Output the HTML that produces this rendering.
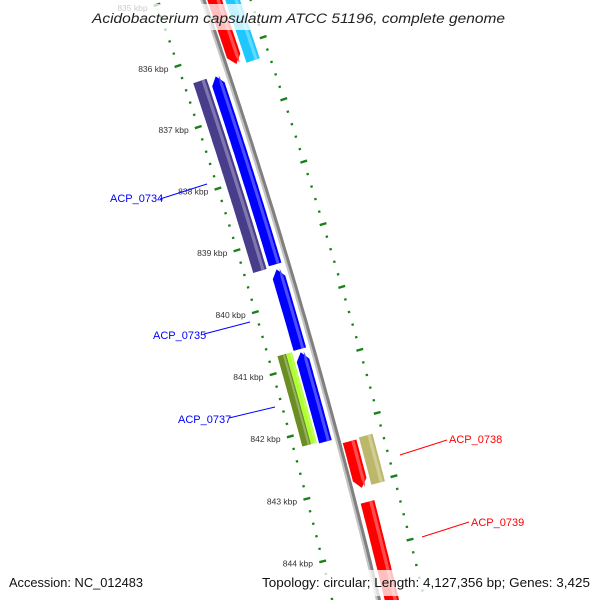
<!DOCTYPE html>
<html><head><meta charset="utf-8"><style>
html,body{margin:0;padding:0;background:#fff;width:600px;height:600px;overflow:hidden;}
svg{display:block;font-family:"Liberation Sans",sans-serif;overflow:hidden;}
</style></head><body>
<svg id="map" width="600" height="600" viewBox="0 0 600 600" xmlns="http://www.w3.org/2000/svg">
<rect width="600" height="600" fill="#fff"/>
<g id="ticks"></g>
<g id="backbone"></g>
<g id="features"></g>
<g id="labels">
  <line x1="160" y1="199" x2="207" y2="184" stroke="#0000ff" stroke-width="1"/>
  <text x="110" y="202" font-size="11" fill="#0000ff">ACP_0734</text>
  <line x1="204" y1="334" x2="250" y2="322" stroke="#0000ff" stroke-width="1"/>
  <text x="153" y="339" font-size="11" fill="#0000ff">ACP_0735</text>
  <line x1="229" y1="418" x2="275" y2="407" stroke="#0000ff" stroke-width="1"/>
  <text x="178" y="423" font-size="11" fill="#0000ff">ACP_0737</text>
  <line x1="400" y1="455" x2="447" y2="440" stroke="#ff0000" stroke-width="1"/>
  <text x="449" y="443" font-size="11" fill="#ff0000">ACP_0738</text>
  <line x1="422" y1="537" x2="469" y2="522" stroke="#ff0000" stroke-width="1"/>
  <text x="471" y="526" font-size="11" fill="#ff0000">ACP_0739</text>
</g>
<g>
  <rect x="88" y="4" width="422" height="26" fill="#fff" opacity="0.75"/>
  <text x="92" y="23" font-size="13.5" font-style="italic" textLength="413" lengthAdjust="spacingAndGlyphs" fill="#222">Acidobacterium capsulatum ATCC 51196, complete genome</text>
</g>
<g>
  <rect x="4" y="570" width="592" height="26" fill="#fff" opacity="0.75"/>
  <text x="9" y="587" font-size="12.5" textLength="134" lengthAdjust="spacingAndGlyphs" fill="#111">Accession: NC_012483</text>
  <text x="262" y="587" font-size="12.5" textLength="328" lengthAdjust="spacingAndGlyphs" fill="#111">Topology: circular; Length: 4,127,356 bp; Genes: 3,425</text>
</g>
</svg>
<script>
// data
const tickKbp = [835, 836, 837, 838, 839, 840, 841, 842, 843, 844, 845];
const tickLabels = ["835 kbp","836 kbp","837 kbp","838 kbp","839 kbp","840 kbp","841 kbp","842 kbp","843 kbp","844 kbp","845 kbp"];
const geneNames = ["red-a","cyan-a","slate-a","ACP_0734","ACP_0735","ACP_0737","olive-a","greenyellow-a","ACP_0738","tan-a","ACP_0739"];
const geneStart = [834.5, 834.5, 836.33, 836.34, 839.46, 840.79, 840.75, 840.75, 842.31, 842.29, 843.28];
const geneEnd   = [836.26, 836.29, 839.41, 839.38, 840.74, 842.22, 842.20, 842.20, 843.05, 843.04, 846.0];
const geneStrand = [1, 1, -1, -1, -1, -1, -1, -1, 1, 1, 1];
const geneLane = [0, 1, 1, 0, 0, 0, 1, 1, 0, 1, 2];
const geneArrow = ["end", "none", "none", "start", "start", "start", "none", "none", "end", "none", "none"];
const geneColor = ["#ff0000","#1ec8ff","#483d8b","#0000ff","#0000ff","#0000ff","#6b8e23","#adff2f","#ff0000","#bdb76b","#ff0000"];

// geometry
const R = 6400, A0 = 0.3334, X0 = 203, S0 = 54.4, PX_PER_KBP = 65;
function P(k, d) {
  const s = S0 + (k - 836) * PX_PER_KBP;
  const a = A0 - s / R;
  const bx = X0 + R * (Math.cos(a) - Math.cos(A0));
  const by = R * (Math.sin(A0) - Math.sin(a));
  return [bx + d * Math.cos(a), by - d * Math.sin(a)];
}
function laneRange(strand, lane, i) {
  if (strand > 0) return lane === 0 ? [4, 18] : (lane === 2 ? [6, 20] : [21, 35]);
  if (i === 6) return [-36, -27];
  if (i === 7) return [-27, -21];
  return lane === 0 ? [-19, -6] : [-36, -22];
}
const NS = "http://www.w3.org/2000/svg";
function mk(tag, attrs, parent) {
  const e = document.createElementNS(NS, tag);
  for (const k in attrs) e.setAttribute(k, attrs[k]);
  parent.appendChild(e);
  return e;
}
function ptsStr(arr) { return arr.map(p => p[0].toFixed(1) + "," + p[1].toFixed(1)).join(" "); }

// backbone
const bb = document.getElementById("backbone");
function arcPath(d) {
  const pts = [];
  for (let k = 834.5; k <= 846.5; k += 0.1) pts.push(P(k, d));
  return "M" + pts.map(p => p[0].toFixed(1) + " " + p[1].toFixed(1)).join(" L");
}
const bl = mk("path", {d: arcPath(-1.5), stroke: "#c4c4c4", "stroke-width": 2.2, fill: "none"}, bb);


const bd = mk("path", {d: arcPath(1), stroke: "#808080", "stroke-width": 3, fill: "none"}, bb);



// ticks
const tg = document.getElementById("ticks");
const green = "#1a801a";
for (let k = 834.6; k <= 846; k += 0.2) {
  const kr = Math.round(k * 10) / 10;
  const major = Math.abs(kr - Math.round(kr)) < 0.01;
  for (const side of [-45, 45]) {
    const half = major ? 3.5 : 1.2;
    const a = P(kr, side - half), b = P(kr, side + half);
    const t = mk("line", {x1: a[0], y1: a[1], x2: b[0], y2: b[1], stroke: green, "stroke-width": major ? 2.4 : 2.2}, tg);
    
    
  }
}
tickKbp.forEach((k, i) => {
  const p = P(k, -55);
  const t = mk("text", {x: p[0], y: p[1] + 3, "text-anchor": "end", "font-size": 8.5, fill: "#333"}, tg);
  t.textContent = tickLabels[i];
  
  
});

// features
const fg = document.getElementById("features");
function lighten(hex, f) {
  const n = parseInt(hex.slice(1), 16);
  const r = n >> 16, g = (n >> 8) & 255, b = n & 255;
  const m = c => Math.round(c + (255 - c) * f);
  return "rgb(" + m(r) + "," + m(g) + "," + m(b) + ")";
}
geneNames.forEach((name, i) => {
  const [d1, d2] = laneRange(geneStrand[i], geneLane[i], i);
  let k1 = geneStart[i], k2 = geneEnd[i];
  const head = 0.13;
  const b1 = geneArrow[i] === "start" ? k1 + head : k1;
  const b2 = geneArrow[i] === "end" ? k2 - head : k2;
  function body(da, db) {
    const L = [], Rr = [];
    const n = Math.max(2, Math.ceil((b2 - b1) / 0.05));
    for (let j = 0; j <= n; j++) {
      const k = b1 + (b2 - b1) * j / n;
      L.push(P(k, da)); Rr.push(P(k, db));
    }
    const pts = [];
    if (geneArrow[i] === "start") pts.push(P(k1, (da + db) / 2));
    pts.push(...L);
    if (geneArrow[i] === "end") pts.push(P(k2, (da + db) / 2));
    pts.push(...Rr.reverse());
    return pts;
  }
  const g = mk("g", {}, fg);
  
  
  const main = mk("polygon", {points: ptsStr(body(d1, d2)), fill: geneColor[i]}, g);
  
  
  const w = d2 - d1;
  const hl = mk("polygon", {points: ptsStr(body(d1 + w * 0.62, d1 + w * 0.85)), fill: lighten(geneColor[i], 0.3)}, g);
  
  
});
</script>
</body></html>
